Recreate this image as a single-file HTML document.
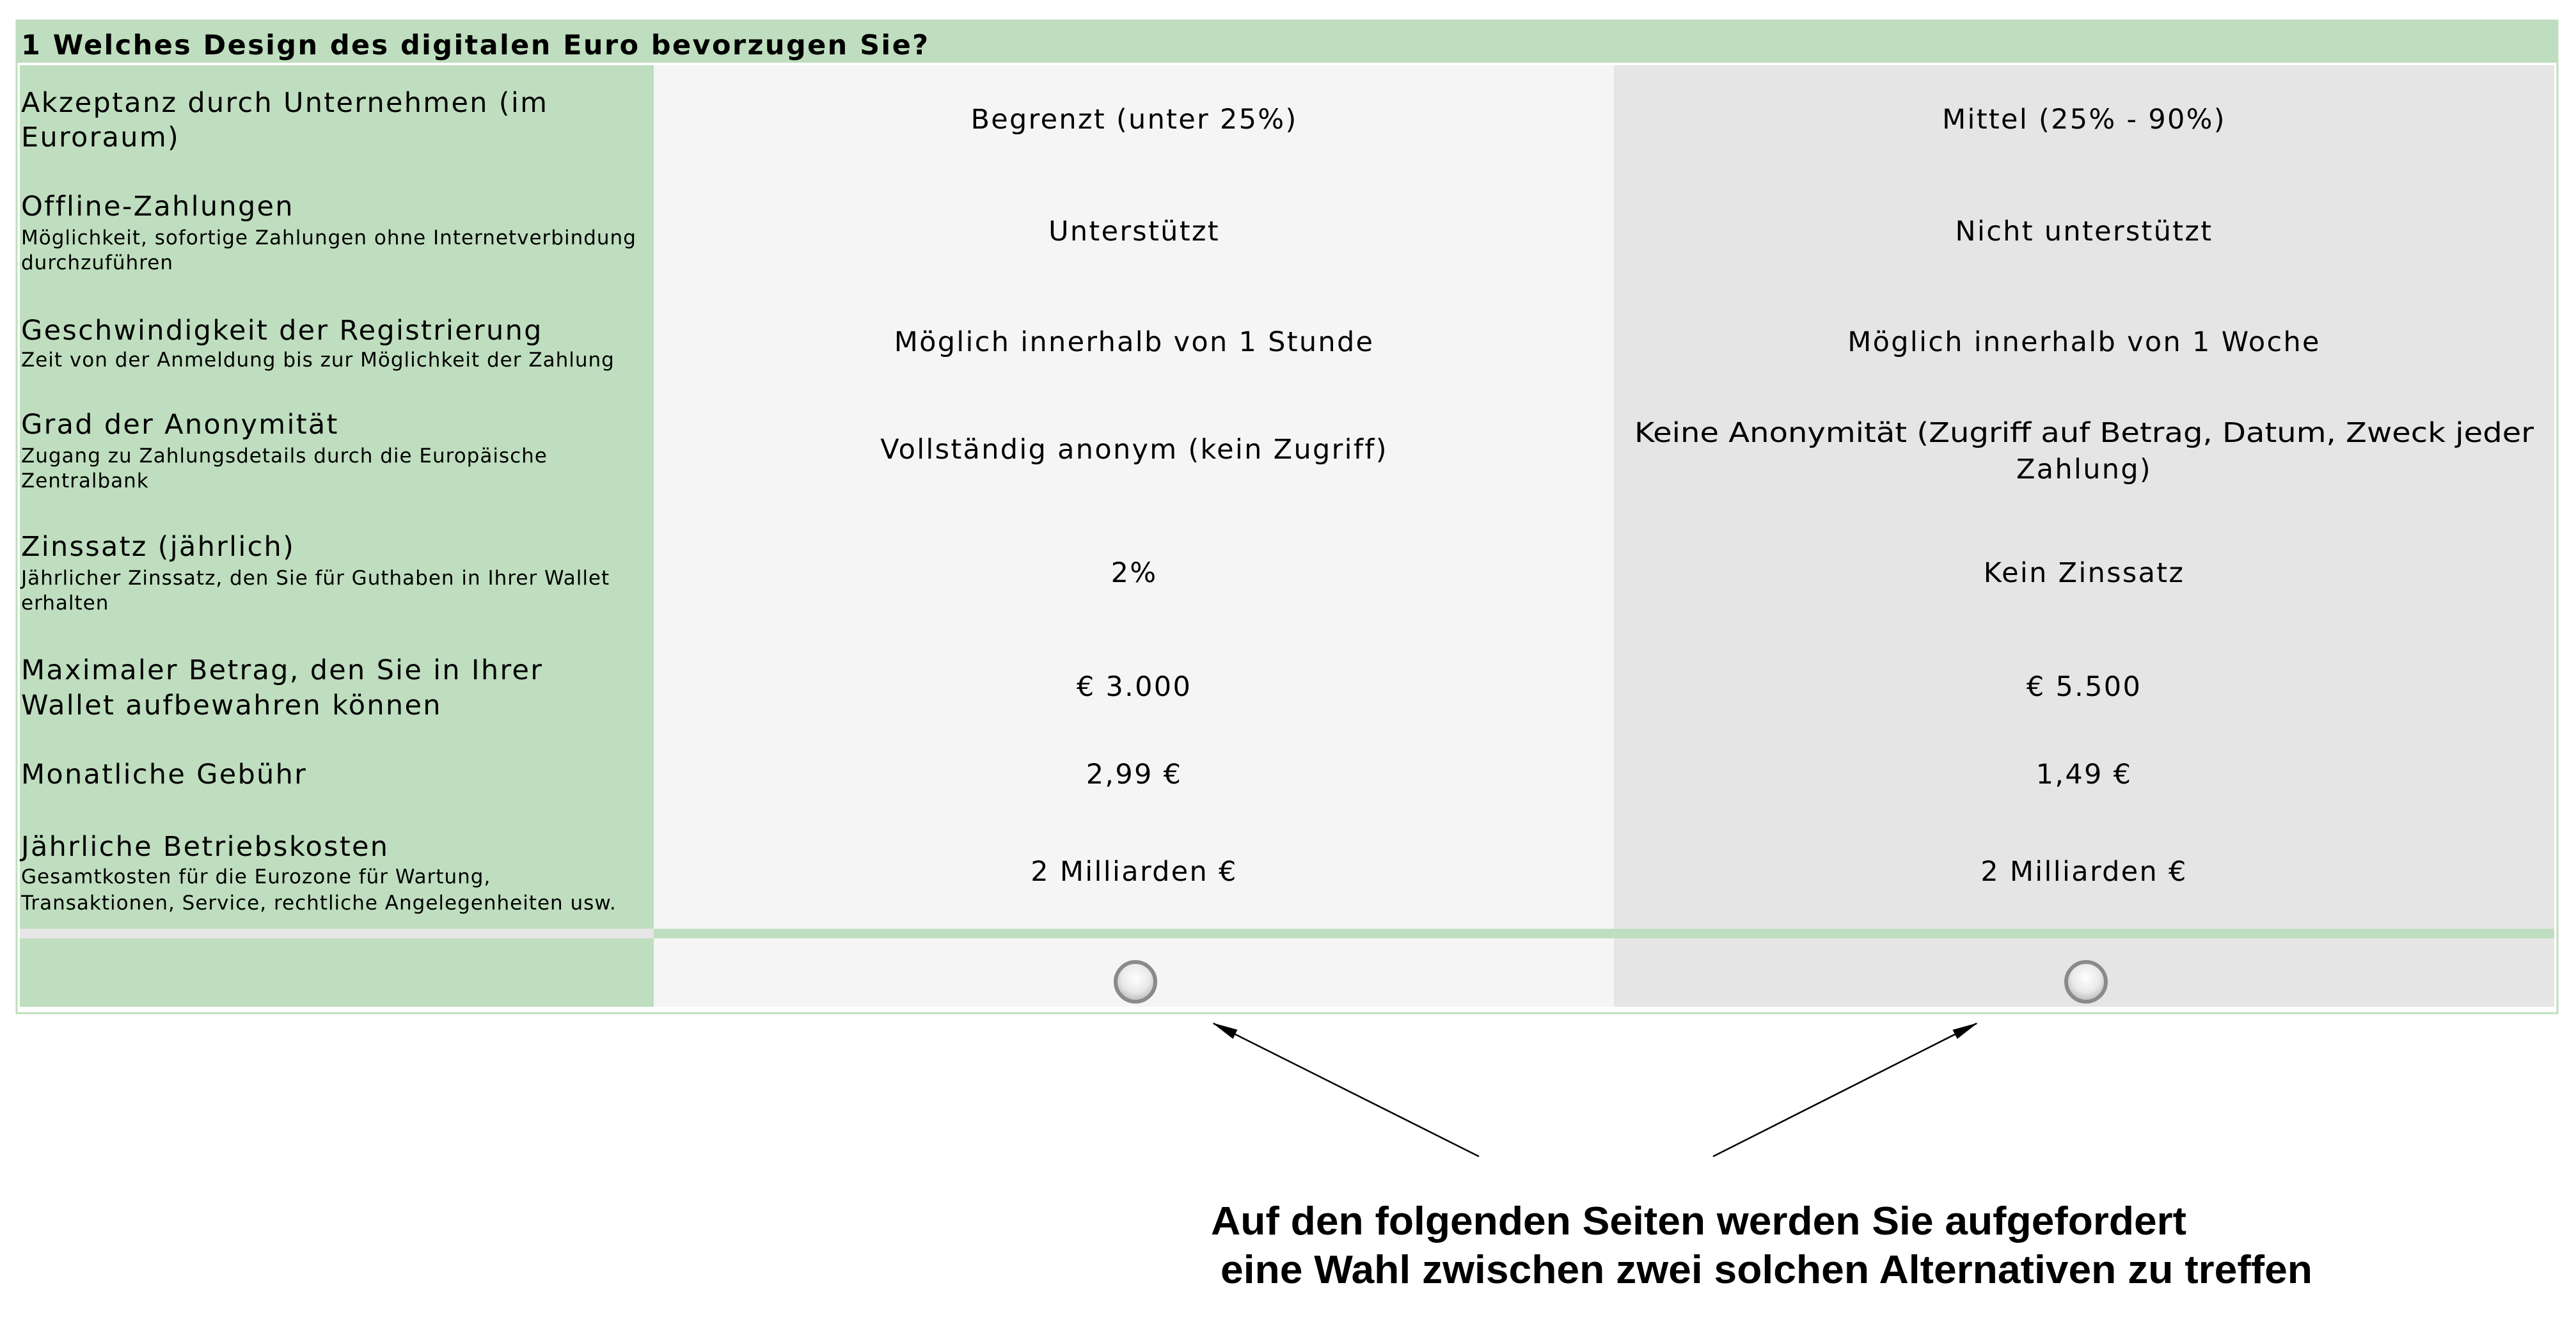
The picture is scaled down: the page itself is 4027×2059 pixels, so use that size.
<!DOCTYPE html>
<html><head><meta charset="utf-8"><style>
html,body{margin:0;padding:0;background:#fff;}
svg{display:block;}
</style></head><body>
<svg width="4027" height="2059" viewBox="0 0 4027 2059" xmlns="http://www.w3.org/2000/svg" font-family="'DejaVu Sans','Liberation Sans',sans-serif">
<defs>
<radialGradient id="rg" cx="50%" cy="40%" r="60%">
<stop offset="0" stop-color="#ffffff"/><stop offset="0.6" stop-color="#e8e8e8"/><stop offset="1" stop-color="#b8b8b8"/>
</radialGradient>
<marker id="ah" markerWidth="40" markerHeight="20" refX="38" refY="10" orient="auto" markerUnits="userSpaceOnUse" viewBox="0 0 40 20"><path d="M0,2 L40,10 L0,18 z" fill="#000"/></marker>
</defs>
<rect width="4027" height="2059" fill="#fff"/>
<rect x="26" y="32" width="3972" height="1552" fill="#fff" stroke="#bfdebf" stroke-width="3"/>
<rect x="26" y="32" width="3972" height="66" fill="#bfdebf"/>
<text x="33" y="85" font-size="43" font-weight="bold" fill="#000" letter-spacing="2.4">1 Welches Design des digitalen Euro bevorzugen Sie?</text>
<rect x="31" y="102" width="991" height="1350" fill="#bfdebf"/>
<rect x="1022" y="102" width="1501" height="1350" fill="#f5f5f5"/>
<rect x="2523" y="102" width="1470" height="1350" fill="#e5e5e5"/>
<rect x="31" y="1452" width="991" height="15" fill="#e6e6e6"/>
<rect x="1022" y="1452" width="2971" height="15" fill="#bfdebf"/>
<rect x="31" y="1467" width="991" height="107" fill="#bfdebf"/>
<rect x="1022" y="1467" width="1501" height="107" fill="#f5f5f5"/>
<rect x="2523" y="1467" width="1470" height="107" fill="#e5e5e5"/>
<circle cx="1775" cy="1535" r="31" fill="url(#rg)" stroke="#8a8a8a" stroke-width="6"/>
<circle cx="3261" cy="1535" r="31" fill="url(#rg)" stroke="#8a8a8a" stroke-width="6"/>
<g fill="#000" font-size="43" letter-spacing="2.3">
<text x="33" y="175">Akzeptanz durch Unternehmen (im</text>
<text x="33" y="229">Euroraum)</text>
<text x="33" y="337">Offline-Zahlungen</text>
<text x="33" y="531">Geschwindigkeit der Registrierung</text>
<text x="33" y="678">Grad der Anonymität</text>
<text x="33" y="869">Zinssatz (jährlich)</text>
<text x="33" y="1062">Maximaler Betrag, den Sie in Ihrer</text>
<text x="33" y="1117">Wallet aufbewahren können</text>
<text x="33" y="1225">Monatliche Gebühr</text>
<text x="33" y="1338">Jährliche Betriebskosten</text>
</g>
<g fill="#000" font-size="31" letter-spacing="1">
<text x="33" y="382">Möglichkeit, sofortige Zahlungen ohne Internetverbindung</text>
<text x="33" y="421">durchzuführen</text>
<text x="33" y="573">Zeit von der Anmeldung bis zur Möglichkeit der Zahlung</text>
<text x="33" y="723">Zugang zu Zahlungsdetails durch die Europäische</text>
<text x="33" y="762">Zentralbank</text>
<text x="33" y="914">Jährlicher Zinssatz, den Sie für Guthaben in Ihrer Wallet</text>
<text x="33" y="953">erhalten</text>
<text x="33" y="1381">Gesamtkosten für die Eurozone für Wartung,</text>
<text x="33" y="1422">Transaktionen, Service, rechtliche Angelegenheiten usw.</text>
</g>
<g fill="#000" font-size="43" text-anchor="middle" letter-spacing="2.3">
<text x="1773" y="201">Begrenzt (unter 25%)</text>
<text x="3258" y="201">Mittel (25% - 90%)</text>
<text x="1773" y="376">Unterstützt</text>
<text x="3258" y="376">Nicht unterstützt</text>
<text x="1773" y="549">Möglich innerhalb von 1 Stunde</text>
<text x="3258" y="549">Möglich innerhalb von 1 Woche</text>
<text x="1773" y="717">Vollständig anonym (kein Zugriff)</text>
<text x="3258" y="691" letter-spacing="0" textLength="1406" lengthAdjust="spacingAndGlyphs">Keine Anonymität (Zugriff auf Betrag, Datum, Zweck jeder</text>
<text x="3258" y="748">Zahlung)</text>
<text x="1773" y="910">2%</text>
<text x="3258" y="910">Kein Zinssatz</text>
<text x="1773" y="1088">€ 3.000</text>
<text x="3258" y="1088">€ 5.500</text>
<text x="1773" y="1225">2,99 €</text>
<text x="3258" y="1225">1,49 €</text>
<text x="1773" y="1377">2 Milliarden €</text>
<text x="3258" y="1377">2 Milliarden €</text>
</g>
<line x1="2312" y1="1808" x2="1897" y2="1600" stroke="#000" stroke-width="2.5" marker-end="url(#ah)"/>
<line x1="2678" y1="1808" x2="3090" y2="1600" stroke="#000" stroke-width="2.5" marker-end="url(#ah)"/>
<g font-family="'Liberation Sans',Arial,sans-serif" font-weight="bold" font-size="62" fill="#000">
<text x="1893" y="1930" textLength="1525" lengthAdjust="spacingAndGlyphs">Auf den folgenden Seiten werden Sie aufgefordert</text>
<text x="1908" y="2006" textLength="1707" lengthAdjust="spacingAndGlyphs">eine Wahl zwischen zwei solchen Alternativen zu treffen</text>
</g>
</svg>
</body></html>
